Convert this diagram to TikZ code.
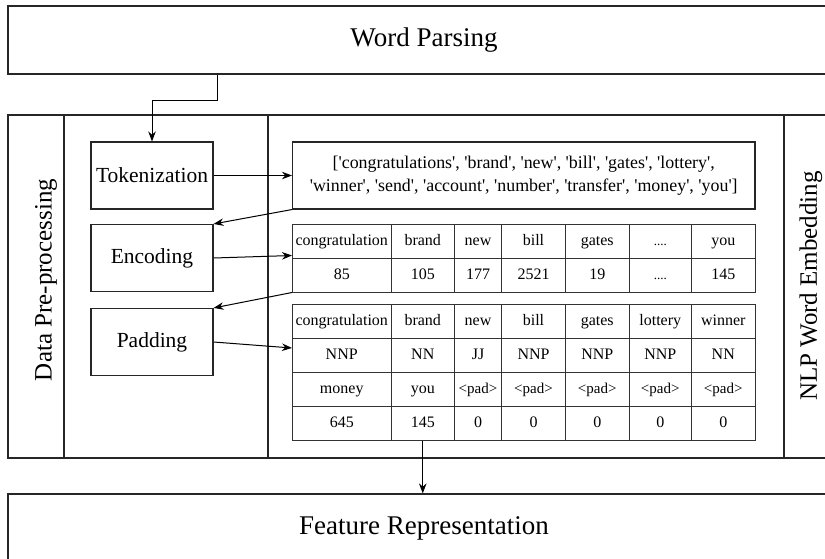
\documentclass[tikz,border=0pt]{standalone}
\usepackage{fontspec}
\setmainfont{Liberation Serif}
% plain family: keeps the straight ASCII quote in the token list
\newfontfamily\plainserif{Liberation Serif}
\usetikzlibrary{arrows.meta,calc}

\newcommand\padtok{{\fontsize{15}{17}\selectfont<pad>}}
\newcommand\gapdots{{\fontsize{13}{15}\selectfont....}}

\begin{document}
\begin{tikzpicture}[x=1pt,y=-1pt,
  frame/.style={draw=black!85,line width=1.2pt},
  bigbox/.style={draw=black!85,line width=1.2pt,inner sep=0pt,font=\fontsize{27}{30}\selectfont},
  stepbox/.style={draw=black!85,line width=1.1pt,inner sep=0pt,minimum width=122pt,minimum height=67pt,font=\fontsize{21.5}{24}\selectfont},
  cell/.style={draw=black!80,line width=1pt,inner sep=0pt,minimum height=34pt,
    text height=11.5pt,text depth=3.5pt,font=\fontsize{16}{18}\selectfont},
  sidelabel/.style={rotate=90,font=\fontsize{25}{28}\selectfont},
  arr/.style={draw=black,line width=1pt,-{Stealth[length=10pt,width=7.5pt]}}]

\useasboundingbox (0,0) rectangle (825,558);
\clip (0,0) rectangle (825,558);

% top and bottom stages
\node[bigbox,minimum width=832pt,minimum height=68pt] (wp) at (424,40) {Word Parsing};
\node[bigbox,minimum width=832pt,minimum height=68pt] (fr) at (424,528) {Feature Representation};

% middle stage frame with its columns
\draw[frame] (8,115) rectangle (840,458);
\draw[frame] (64,115) -- (64,458);
\draw[frame] (268,115) -- (268,458);
\draw[frame] (784,115) -- (784,458);
\node[sidelabel] (dpp) at (46,280) {Data Pre-processing};
\node[sidelabel] (nlp) at (811,286) {NLP Word Embedding};

% processing steps
\node[stepbox] (tok) at (152,175.5) {Tokenization};
\node[stepbox] (enc) at (152,258) {Encoding};
\node[stepbox] (pad) at (152,342) {Padding};

% token list
\node[draw=black!85,line width=1.1pt,inner sep=0pt,minimum width=462.5pt,minimum height=67pt,
      align=center,font=\plainserif\fontsize{17.9}{23.5}\selectfont] (list) at (523.75,175.5)
  {['congratulations', 'brand', 'new', 'bill', 'gates', 'lottery',\\
   'winner', 'send', 'account', 'number', 'transfer', 'money', 'you']};

% encoded table
\foreach \xa/\xb/\t [count=\i] in {292.5/391/congratulation,391/454.5/brand,454.5/501.5/new,
    501.5/565.5/bill,565.5/629/gates,629/691.5/\gapdots,691.5/755/you}
  \node[cell,minimum width={\xb-\xa}] (ea\i) at ({(\xa+\xb)/2},241) {\t};
\foreach \xa/\xb/\t [count=\i] in {292.5/391/85,391/454.5/105,454.5/501.5/177,
    501.5/565.5/2521,565.5/629/19,629/691.5/\gapdots,691.5/755/145}
  \node[cell,minimum width={\xb-\xa}] (eb\i) at ({(\xa+\xb)/2},275) {\t};

% padded table
\foreach \xa/\xb/\t [count=\i] in {292.5/391/congratulation,391/454.5/brand,454.5/501.5/new,
    501.5/565.5/bill,565.5/629/gates,629/691.5/lottery,691.5/755/winner}
  \node[cell,minimum width={\xb-\xa}] (pa\i) at ({(\xa+\xb)/2},321) {\t};
\foreach \xa/\xb/\t [count=\i] in {292.5/391/NNP,391/454.5/NN,454.5/501.5/JJ,
    501.5/565.5/NNP,565.5/629/NNP,629/691.5/NNP,691.5/755/NN}
  \node[cell,minimum width={\xb-\xa}] (pb\i) at ({(\xa+\xb)/2},355) {\t};
\foreach \xa/\xb/\t [count=\i] in {292.5/391/money,391/454.5/you,454.5/501.5/\padtok,
    501.5/565.5/\padtok,565.5/629/\padtok,629/691.5/\padtok,691.5/755/\padtok}
  \node[cell,minimum width={\xb-\xa}] (pc\i) at ({(\xa+\xb)/2},389) {\t};
\foreach \xa/\xb/\t [count=\i] in {292.5/391/645,391/454.5/145,454.5/501.5/0,
    501.5/565.5/0,565.5/629/0,629/691.5/0,691.5/755/0}
  \node[cell,minimum width={\xb-\xa}] (pd\i) at ({(\xa+\xb)/2},423) {\t};

% connectors
\draw[arr] ([xshift=-207pt]wp.south) |- ($(tok.north)+(0,-41)$) -- (tok.north);
\draw[arr] (tok.east) -- (list.west);
\draw[arr] (list.south west) -- (enc.north east);
\draw[arr] (enc.east) -- ([yshift=3pt]ea1.south west);
\draw[arr] (eb1.south west) -- (pad.north east);
\draw[arr] (pad.east) -- ([yshift=7pt]pb1.west);
\draw[arr] (pd2.south) -- (fr.north -| pd2.south);
\end{tikzpicture}
\end{document}
